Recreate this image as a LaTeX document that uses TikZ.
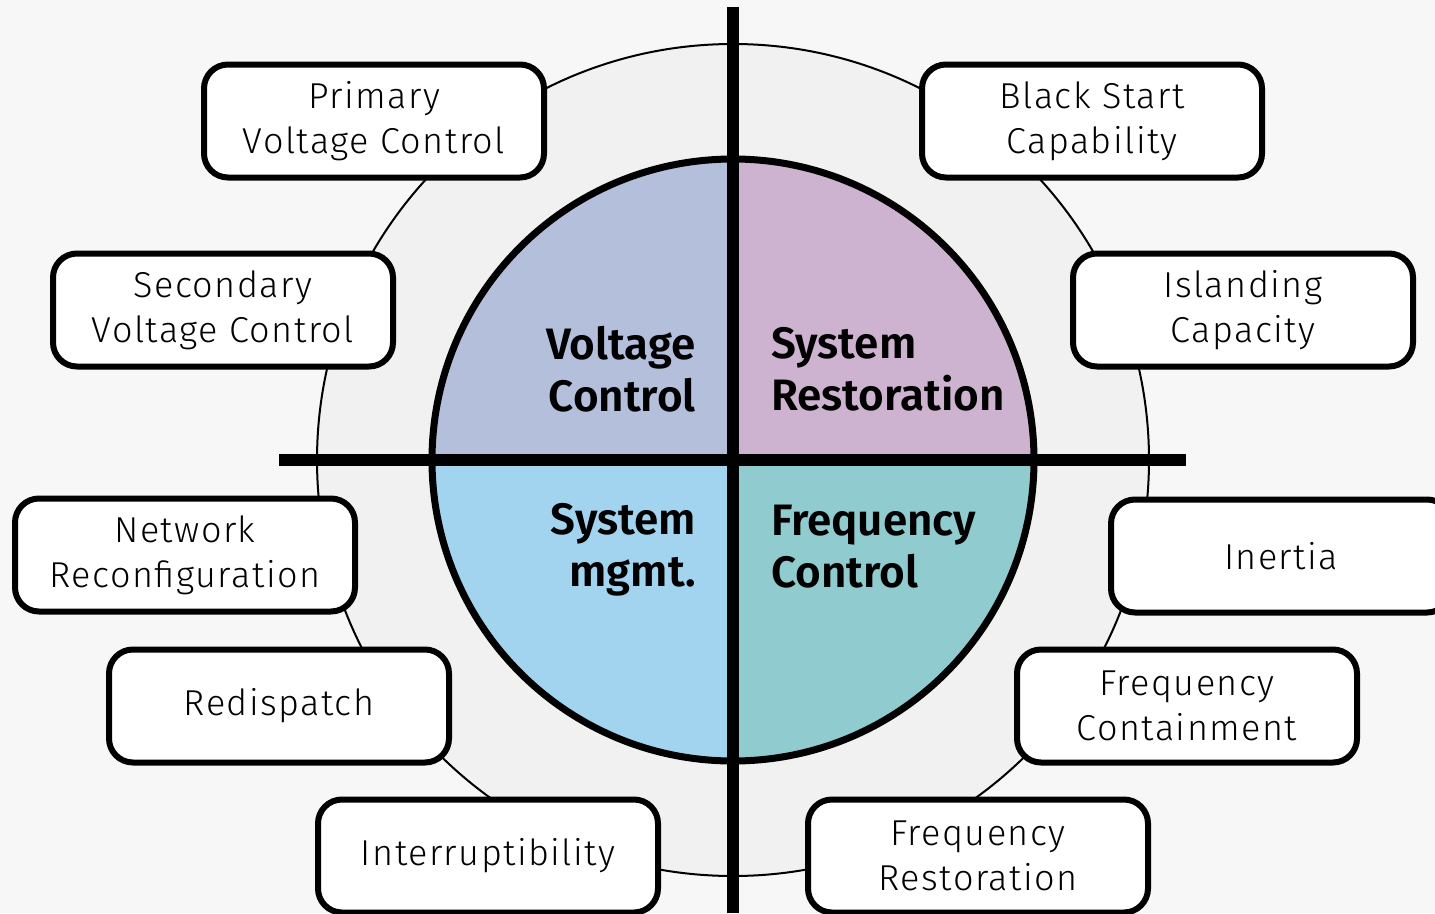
\documentclass[tikz,border=0pt]{standalone}
\usepackage{fontspec}
\setmainfont{Fira Sans}[UprightFont=* Light, BoldFont=* SemiBold]
\newfontfamily\itemfont{Fira Sans}[UprightFont=* Light, LetterSpace=4]
\usetikzlibrary{positioning}

\definecolor{bgpaper}{HTML}{F7F7F7}
\definecolor{ringfill}{HTML}{F1F1F1}
\definecolor{voltq}{HTML}{B3BFDB}
\definecolor{restq}{HTML}{CDB3CF}
\definecolor{mgmtq}{HTML}{A3D4EF}
\definecolor{freqq}{HTML}{8FCBCF}

\begin{document}
\begin{tikzpicture}[x=1pt,y=-1pt,
    item node/.style={draw,line width=6pt,rounded corners=24pt,fill=white,minimum width=340pt,
      minimum height=113pt,align=center,font=\itemfont\fontsize{36}{45}\selectfont},
    area label/.style={inner sep=0pt,font=\bfseries\fontsize{44}{52}\selectfont}]

  \fill[bgpaper] (0,0) rectangle (1435,913);
  \useasboundingbox (0,0) rectangle (1435,913);
  \coordinate (hub) at (733,460);

  % outer ring and the four quarters
  \draw[line width=2pt,fill=ringfill] (hub) circle[radius=416];
  \begin{scope}
    \clip (hub) circle[radius=301];
    \fill[voltq] (hub) rectangle (420,150);
    \fill[restq] (hub) rectangle (1050,150);
    \fill[mgmtq] (hub) rectangle (420,770);
    \fill[freqq] (hub) rectangle (1050,770);
  \end{scope}
  \draw[line width=7pt] (hub) circle[radius=301];
  \draw[line width=12.5pt] (733,7) -- (733,913);
  \draw[line width=12.5pt] (279,460) -- (1186,460);

  \node[area label,align=right,anchor=east] (vc) at (696,369) {Voltage\\Control};
  \node[area label,align=left,anchor=west]  (sr) at (771,369) {System\\Restoration};
  \node[area label,align=right,anchor=east] (sm) at (696,550) {System\\mgmt.};
  \node[area label,align=left,anchor=west]  (fc) at (771,547) {Frequency\\Control};

  \node[item node] (pvc) at (374,121)  {Primary\\Voltage Control};
  \node[item node] (svc) at (223,310)  {Secondary\\Voltage Control};
  \node[item node] (nrc) at (185,555)  {Network\\Reconfiguration};
  \node[item node] (rdp) at (279,706)  {Redispatch};
  \node[item node] (itr) at (488,856)  {Interruptibility};
  \node[item node] (bsc) at (1092,121) {Black Start\\Capability};
  \node[item node] (isl) at (1243,310) {Islanding\\Capacity};
  \node[item node] (ine) at (1281,556) {Inertia};
  \node[item node] (fcn) at (1187,706) {Frequency\\Containment};
  \node[item node] (frs) at (978,856)  {Frequency\\Restoration};

\end{tikzpicture}
\end{document}
